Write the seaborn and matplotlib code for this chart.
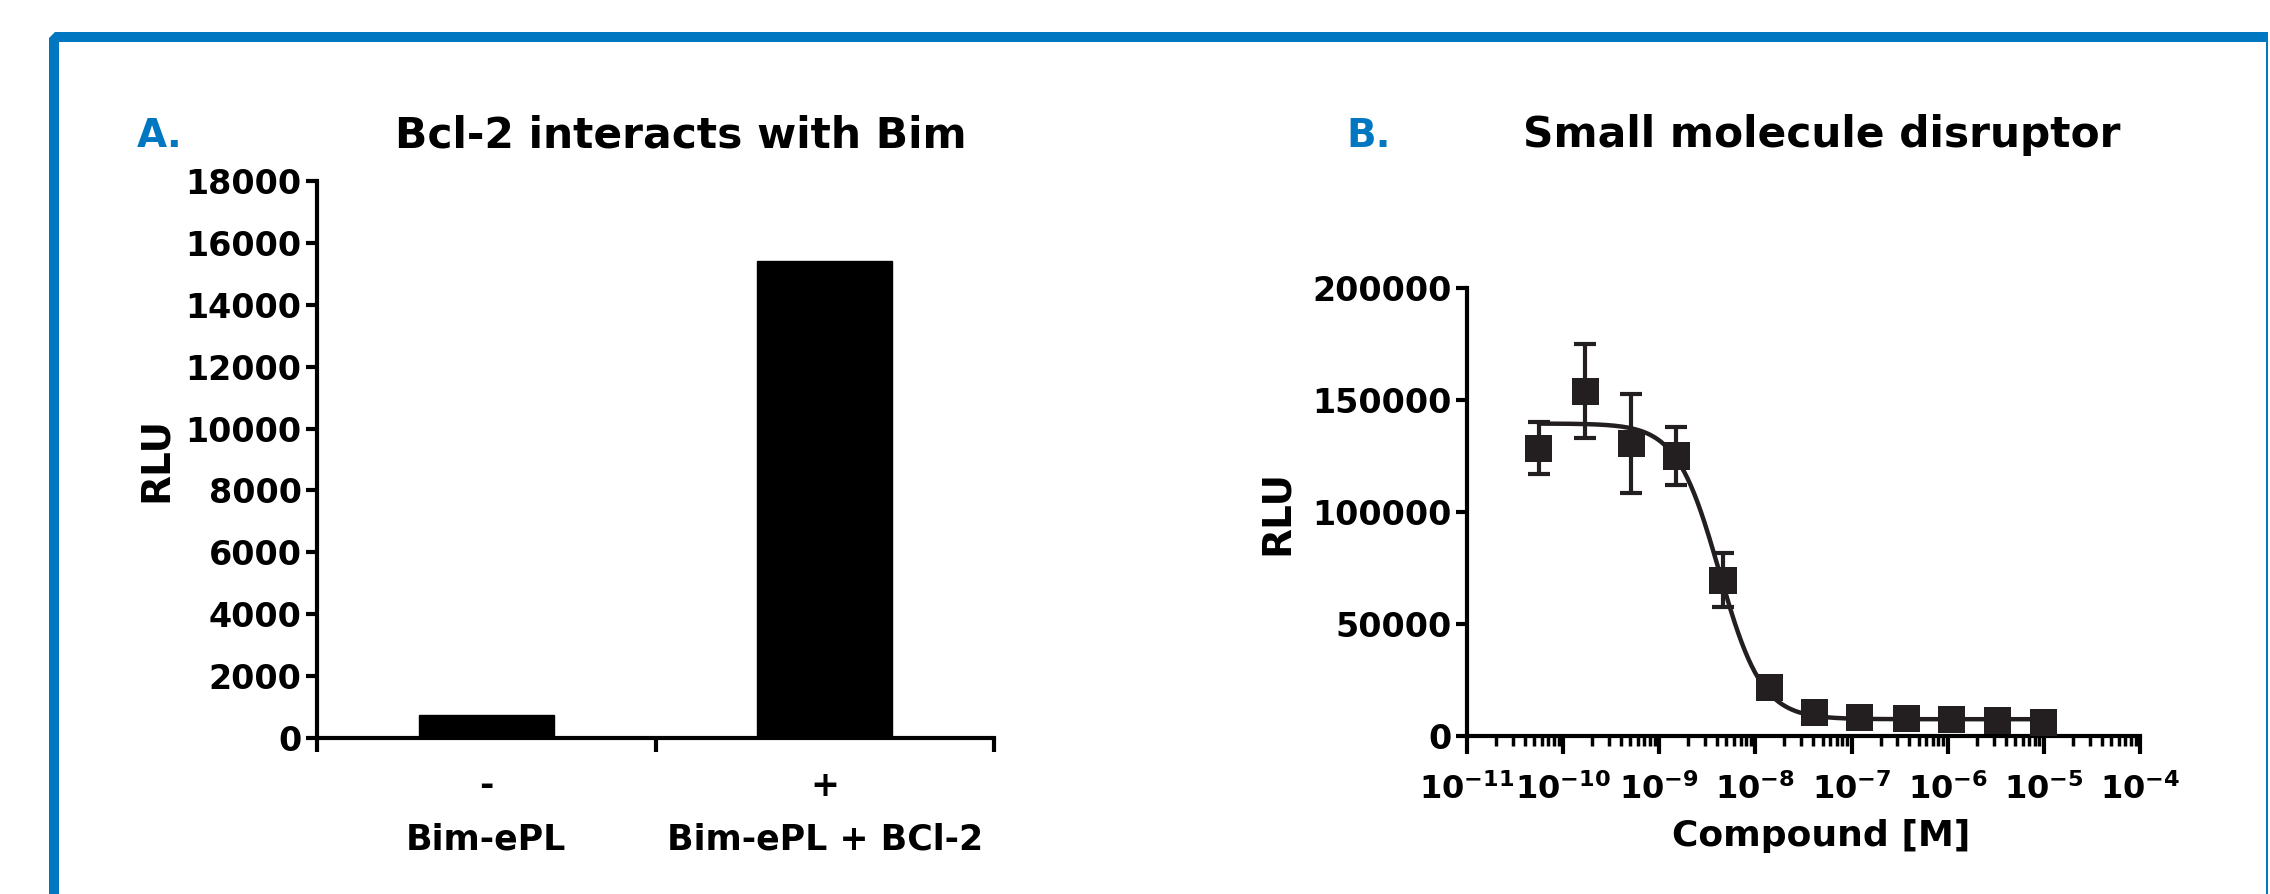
import numpy as np
import pandas as pd
import matplotlib
matplotlib.use("Agg")
import matplotlib.pyplot as plt
import matplotlib.ticker as mticker
from matplotlib.patches import Polygon
import seaborn as sns

# ---- Panel A: Bcl-2 / Bim interaction ----
bar_labels = ["-\nBim-ePL", "+\nBim-ePL + BCl-2"]
bar_rlu = [750, 15400]

# ---- Panel B: small molecule titration (3-fold dilutions) ----
conc_m = [5.6e-11, 1.7e-10, 5.1e-10, 1.5e-9, 4.6e-9, 1.4e-8,
          4.1e-8, 1.2e-7, 3.7e-7, 1.1e-6, 3.3e-6, 1.0e-5]
rlu_mean = [128500, 154000, 130500, 125000, 69500, 21800,
            10400, 8200, 7800, 7500, 7100, 6200]
rlu_sd = [11500, 21000, 22000, 13000, 12000, 0,
          0, 0, 0, 0, 0, 0]

# fitted 4-parameter logistic (as drawn in the figure)
fit_top = 139500
fit_bottom = 7500
fit_ic50 = 4.2e-9
fit_hill = 1.95

BLUE = "#0077c0"
INK = "#231f20"

sns.set_theme(style="ticks")
plt.rcParams["font.family"] = ["DejaVu Sans"]
plt.rcParams["font.weight"] = "bold"
plt.rcParams["mathtext.default"] = "bf"
plt.rcParams["axes.linewidth"] = 3
for key in ["text.color", "axes.labelcolor", "axes.edgecolor", "xtick.color", "ytick.color"]:
    plt.rcParams[key] = "black"

W, H = 2270, 894
fig = plt.figure(figsize=(W / 100, H / 100), dpi=100)


def px(x0, y0, x1, y1):
    # pixel box (top-left origin) -> figure fraction rect
    return [x0 / W, 1 - y1 / H, (x1 - x0) / W, (y1 - y0) / H]


# blue frame
frame = [(49, 894), (49, 38), (55, 32), (2268, 32), (2268, 42), (59, 42), (59, 894)]
fig.patches.append(Polygon([(x / W, 1 - y / H) for x, y in frame], closed=True,
                           facecolor=BLUE, edgecolor="none", transform=fig.transFigure))
fig.patches.append(Polygon([(2266 / W, 1 - 32 / H), (2268 / W, 1 - 32 / H),
                            (2268 / W, 0), (2266 / W, 0)], closed=True,
                           facecolor=BLUE, edgecolor="none", transform=fig.transFigure))

# ==========================================
# Panel A
# ==========================================
axA = fig.add_axes(px(317, 181, 994, 738))
sns.barplot(x=bar_labels, y=bar_rlu, color="black", width=0.4, saturation=1,
            edgecolor="black", ax=axA)
axA.set_xlim(-0.5, 1.5)
axA.set_ylim(0, 18000)
axA.set_yticks(np.arange(0, 18001, 2000))
axA.set_xticks([-0.5, 0.5, 1.5], minor=True)
axA.tick_params(axis="x", which="major", length=0, pad=22, labelsize=25)
axA.tick_params(axis="x", which="minor", length=10, width=3, direction="out")
axA.tick_params(axis="y", length=8, width=3, labelsize=24, pad=3)
for t in axA.get_xticklabels():
    t.set_linespacing(1.75)
axA.set_ylabel("RLU", fontsize=28, fontweight="bold", labelpad=8)
axA.set_xlabel("")
sns.despine(ax=axA)

fig.text(137 / W, 1 - 147 / H, "A.", color=BLUE, fontsize=28, fontweight="bold",
         ha="left", va="baseline")
fig.text(681 / W, 1 - 147 / H, "Bcl-2 interacts with Bim", color="black",
         fontsize=30.5, fontweight="bold", ha="center", va="baseline")

# ==========================================
# Panel B
# ==========================================
axB = fig.add_axes(px(1467, 288, 2140, 736))
axB.set_xscale("log")
axB.errorbar(conc_m, rlu_mean, yerr=rlu_sd, fmt="none", ecolor=INK,
             elinewidth=3, capsize=8, capthick=3, zorder=2)

x_fit = np.logspace(np.log10(conc_m[0]), np.log10(conc_m[-1]), 300)
y_fit = fit_bottom + (fit_top - fit_bottom) / (1 + (x_fit / fit_ic50) ** fit_hill)
sns.lineplot(x=x_fit, y=y_fit, color=INK, linewidth=3.2, ax=axB, zorder=2)
sns.scatterplot(x=conc_m, y=rlu_mean, marker="s", s=380, color=INK,
                edgecolor="none", ax=axB, zorder=3)

axB.set_xlim(1e-11, 1e-4)
axB.set_ylim(0, 200000)
axB.set_yticks(np.arange(0, 200001, 50000))
axB.xaxis.set_major_locator(mticker.LogLocator(base=10, numticks=20))
axB.xaxis.set_minor_locator(mticker.LogLocator(base=10, subs=np.arange(2, 10), numticks=20))
axB.xaxis.set_major_formatter(mticker.LogFormatterMathtext())
axB.xaxis.set_minor_formatter(mticker.NullFormatter())
axB.tick_params(axis="x", which="major", length=13, width=3, labelsize=23, pad=14)
axB.tick_params(axis="x", which="minor", length=7, width=2.5)
axB.tick_params(axis="y", length=8, width=3, labelsize=24, pad=3)
axB.set_xlabel("Compound [M]", fontsize=26, fontweight="bold")
axB.xaxis.set_label_coords(0.527, -0.185)
axB.set_ylabel("RLU", fontsize=28, fontweight="bold", labelpad=12)
sns.despine(ax=axB)

fig.text(1346 / W, 1 - 147 / H, "B.", color=BLUE, fontsize=28, fontweight="bold",
         ha="left", va="baseline")
fig.text(1822 / W, 1 - 147 / H, "Small molecule disruptor", color="black",
         fontsize=30.5, fontweight="bold", ha="center", va="baseline")

fig.savefig("out.png", dpi=100, facecolor="white")
